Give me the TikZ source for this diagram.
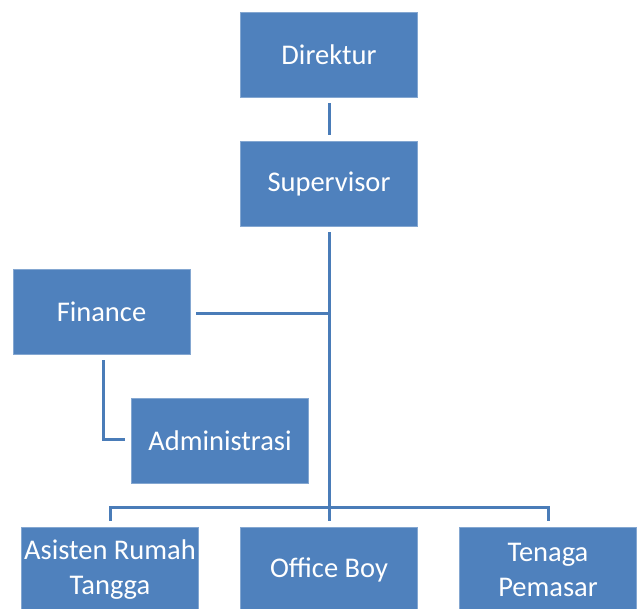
\documentclass[tikz,border=0pt]{standalone}
\usepackage{fontspec}
\setmainfont{Carlito}
\definecolor{obox}{HTML}{4F81BD}
\definecolor{oline}{HTML}{4A7CB8}
\begin{document}
\begin{tikzpicture}[x=1pt,y=-1pt,
  box/.style={fill=obox,draw=obox!70!white,line width=0.8pt,text=white,minimum width=177pt,minimum height=85pt,inner sep=0pt,align=center,font=\fontsize{28.5}{35}\selectfont},
  conn/.style={draw=oline,line width=3pt}]
\useasboundingbox (0,0) rectangle (637,608);
\clip (0,0) rectangle (637,608);
\node[box] (dir) at (329,54.5) {Direktur};
\node[box] (sup) at (329,183.5) {Supervisor};
\node[box] (fin) at (101.5,312) {Finance};
\node[box] (adm) at (220,440.5) {Administrasi};
\node[box] (art) at (110,569.5) {Asisten Rumah\\Tangga};
\node[box] (ob) at (329,569.5) {Office Boy};
\node[box] (tp) at (548,569.5) {Tenaga\\Pemasar};
\coordinate (j1) at (329,313);
\coordinate (bus) at (329,507);
\coordinate (busL) at (110,507);
\coordinate (busR) at (548,507);
\coordinate (fa) at (103,439);
\draw[conn] ([yshift=-6pt]dir.south) -- ([yshift=6pt]sup.north);
\draw[conn] ([yshift=-6pt]sup.south) -- ([yshift=6pt]ob.north);
\draw[conn] ([xshift=6pt]fin.east |- j1) -- (j1);
\draw[conn] (103,360) -- (fa) -- ([xshift=-6pt]adm.west |- fa);
\draw[conn] ([yshift=6pt]art.north) -- (busL) -- (busR) -- ([yshift=6pt]tp.north);
\end{tikzpicture}
\end{document}
